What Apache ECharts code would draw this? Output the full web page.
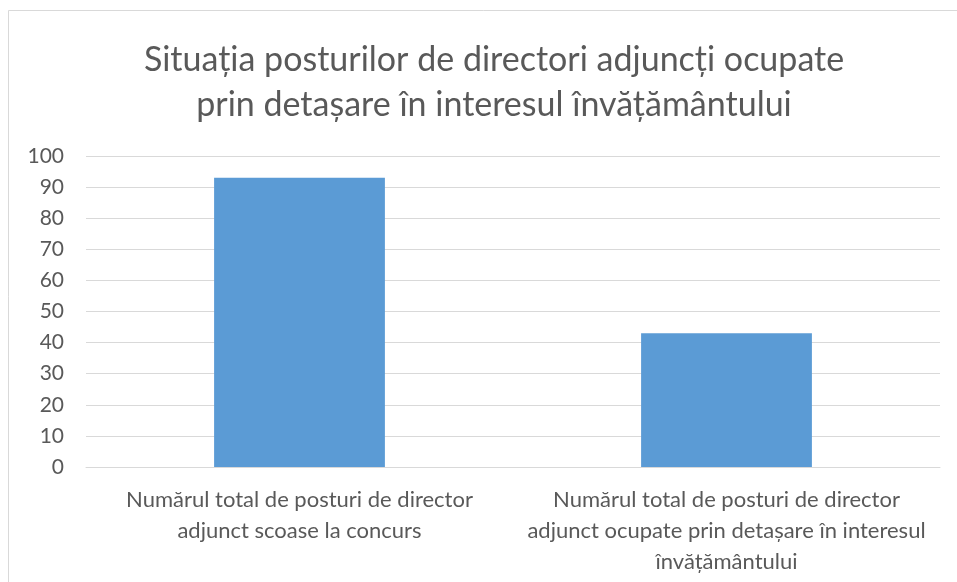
<!DOCTYPE html>
<html lang="ro">
<head>
    <meta charset="UTF-8">
    <title>Situația posturilor de directori adjuncți</title>
    <script type="text/javascript" src="https://cdn.jsdelivr.net/npm/echarts@6/dist/echarts.min.js"></script>
    <style>
        html, body { margin: 0; padding: 0; background: #fff; }
    </style>
</head>
<body>
<div id="main" style="width:957px;height:582px;"></div>

<script type="text/javascript">
    // date
    var categories = [
        'Numărul total de posturi de director adjunct scoase la concurs',
        'Numărul total de posturi de director adjunct ocupate prin detașare în interesul învățământului'
    ];
    // rupturile de rand ale etichetelor, ca in original
    var categoryLines = [
        ['Numărul total de posturi de director', 'adjunct scoase la concurs'],
        ['Numărul total de posturi de director', 'adjunct ocupate prin detașare în interesul', 'învățământului']
    ];
    var values = [93, 43];
    var yTicks = [0, 10, 20, 30, 40, 50, 60, 70, 80, 90, 100];

    var fontName = 'Lato, "Open Sans", sans-serif';

    var myChart = echarts.init(document.getElementById('main'));

    var option = {
        animation: false,
        backgroundColor: '#fff',
        title: {
            text: 'Situația posturilor de directori adjuncți ocupate\nprin detașare în interesul învățământului',
            left: 489,
            textAlign: 'center',
            top: 33,
            textStyle: {
                fontFamily: fontName,
                fontSize: 34,
                fontWeight: 'normal',
                color: '#595959',
                lineHeight: 45
            }
        },
        graphic: [{
            type: 'rect',
            shape: { x: 8.5, y: 10.5, width: 1000, height: 700 },
            style: { fill: 'none', stroke: '#d9d9d9', lineWidth: 1 },
            silent: true
        }],
        grid: {
            left: 86,
            right: 17,
            top: 156,
            bottom: 115,
            containLabel: false
        },
        xAxis: {
            type: 'category',
            data: categories,
            axisTick: { show: false },
            axisLine: { lineStyle: { color: '#d9d9d9' } },
            axisLabel: {
                interval: 0,
                margin: 17,
                fontFamily: fontName,
                fontSize: 22,
                color: '#595959',
                lineHeight: 31,
                formatter: function (value, idx) {
                    return categoryLines[idx].join('\n');
                }
            }
        },
        yAxis: {
            type: 'value',
            min: yTicks[0],
            max: yTicks[yTicks.length - 1],
            interval: 10,
            axisLine: { show: false },
            axisTick: { show: false },
            splitLine: { lineStyle: { color: '#d9d9d9' } },
            axisLabel: {
                margin: 22,
                fontFamily: fontName,
                fontSize: 21,
                color: '#595959'
            }
        },
        series: [{
            type: 'bar',
            data: values,
            barWidth: '40%',
            itemStyle: { color: '#5b9bd5' }
        }]
    };

    myChart.setOption(option);
</script>
</body>
</html>
